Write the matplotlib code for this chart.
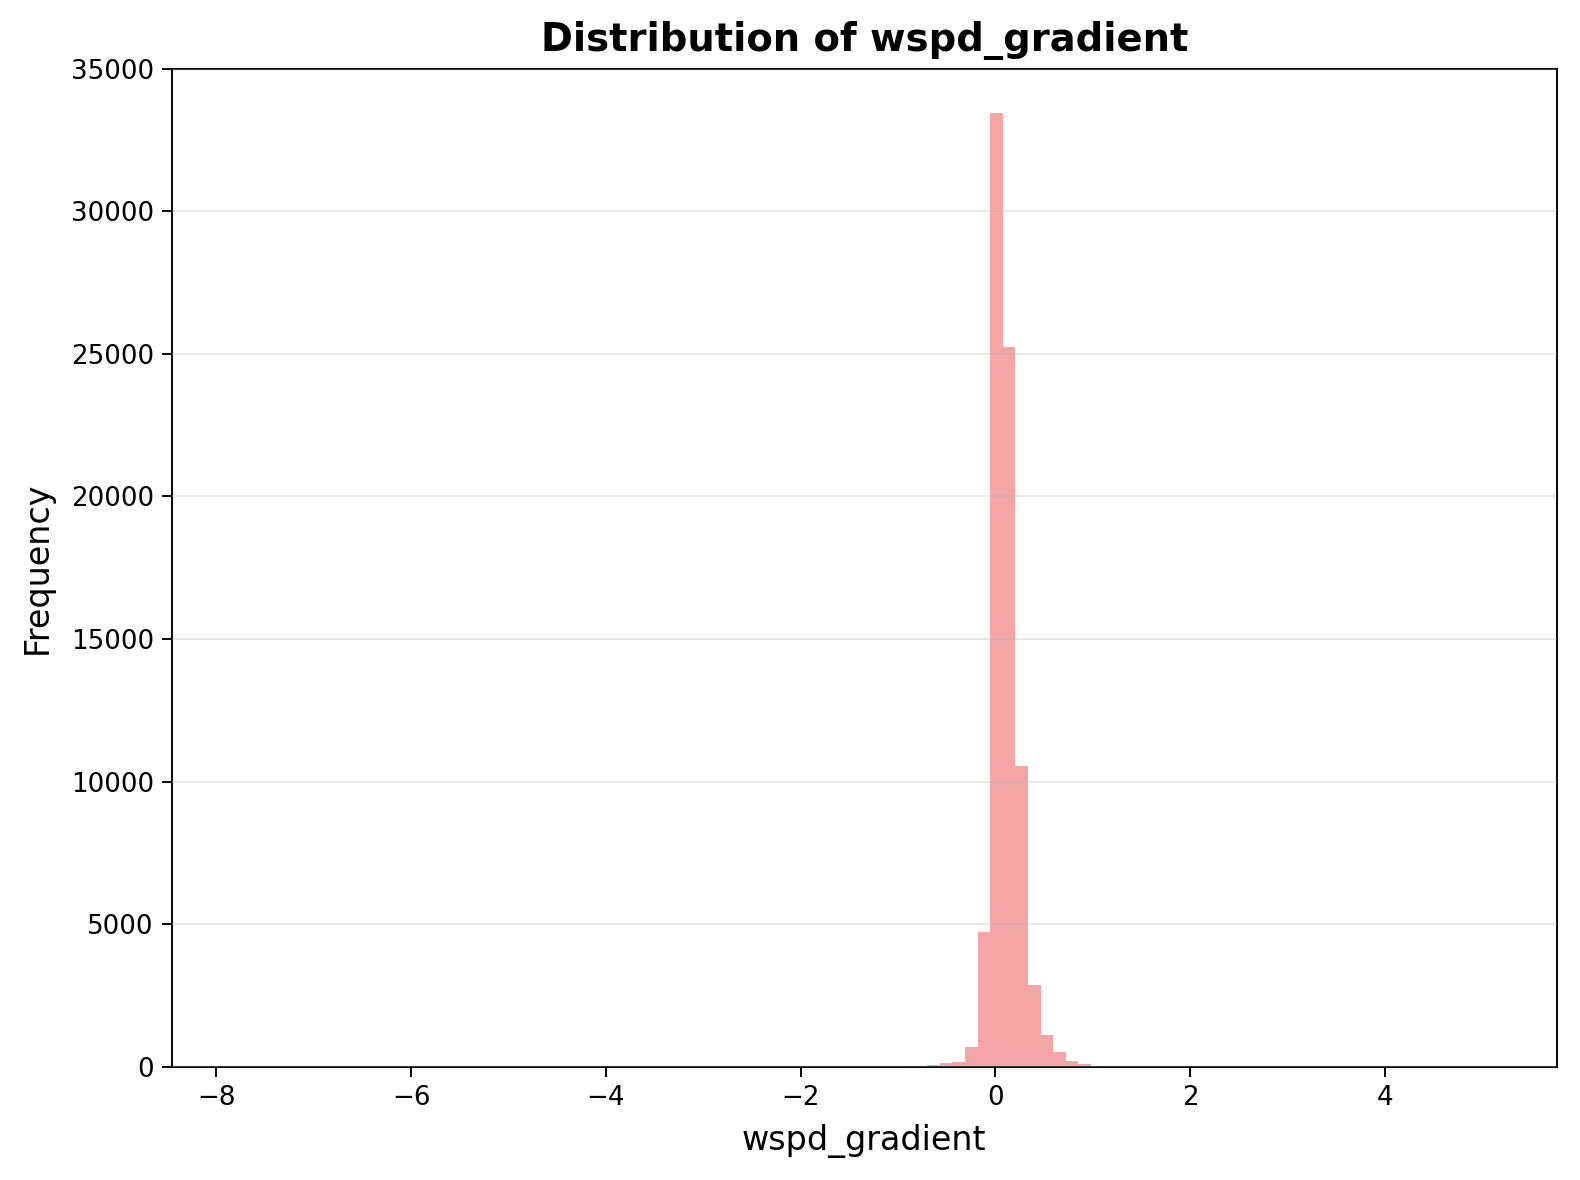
import numpy as np
import matplotlib.pyplot as plt

# histogram of wspd_gradient, 100 equal bins between data min and max
data_min = -7.812
data_max = 5.12
n_bins = 100

# counts per bin, all other bins ~0
nonzero_bins = [0, 50, 52, 53, 54, 55, 56, 57, 58, 59, 60, 61, 62, 63, 64, 65, 66, 67, 68, 69, 70, 99]
nonzero_counts = [1, 3, 10, 35, 15, 70, 130, 165, 680, 4720, 33450, 25250,
                  10550, 2880, 1120, 520, 205, 105, 30, 10, 4, 1]

edges = np.linspace(data_min, data_max, n_bins + 1)
counts = np.zeros(n_bins)
counts[nonzero_bins] = nonzero_counts
centers = (edges[:-1] + edges[1:]) / 2

s = 1.19  # overall scale vs default sizes
fig = plt.figure(figsize=(1580 / 144, 1180 / 144), dpi=144)
ax = fig.add_axes([0.1087, 0.0959, 0.8766, 0.8459])

ax.hist(centers, bins=edges, weights=counts, color='lightcoral', alpha=0.7)
ax.set_ylim(0, 35000)
ax.grid(True, axis='y', alpha=0.3, linewidth=0.8 * s)
ax.set_axisbelow(False)

for sp in ax.spines.values():
    sp.set_linewidth(0.8 * s)
ax.tick_params(labelsize=11 * s, length=4.8, width=0.8 * s, pad=3.5 * s)

ax.set_title('Distribution of wspd_gradient', fontsize=16.2 * s, fontweight='bold', pad=7.5 * s)
ax.set_xlabel('wspd_gradient', fontsize=14 * s, labelpad=5.5 * s)
ax.set_ylabel('Frequency', fontsize=14 * s, labelpad=7 * s)

fig.savefig('out.png', dpi=144)
